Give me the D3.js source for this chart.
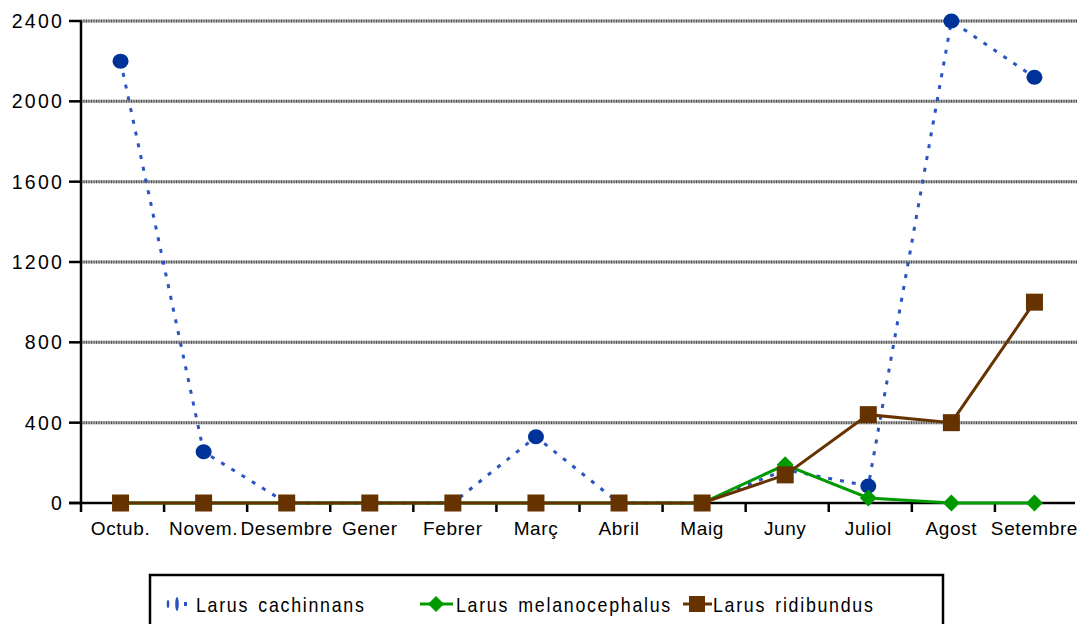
<!DOCTYPE html>
<html>
<head>
<meta charset="utf-8">
<script src="https://cdn.jsdelivr.net/npm/d3@7"></script>
<style>
  body { margin: 0; background: #fff; }
  text { font-family: "Liberation Sans", Arial, sans-serif; fill: #000; }
</style>
</head>
<body>
<div id="chart"></div>
<script>
var months = ["Octub.", "Novem.", "Desembre", "Gener", "Febrer", "Març", "Abril", "Maig", "Juny", "Juliol", "Agost", "Setembre"];
var cachinnans = [2200, 255, 0, 0, 0, 330, 0, 0, 165, 85, 2400, 2120];
var melanocephalus = [0, 0, 0, 0, 0, 0, 0, 0, 190, 25, 0, 0];
var ridibundus = [0, 0, 0, 0, 0, 0, 0, 0, 140, 440, 400, 1000];
var yTicks = [0, 400, 800, 1200, 1600, 2000, 2400];
var seriesNames = ["Larus cachinnans", "Larus melanocephalus", "Larus ridibundus"];

var width = 1087, height = 624;
var svg = d3.select("#chart").append("svg")
    .attr("width", width).attr("height", height);

var x = d3.scaleBand().domain(months).range([79, 1076]);
var y = d3.scaleLinear().domain([0, 2400]).range([503, 21]);
var axisX = 81;

// gridlines
var grid = svg.append("g");
grid.selectAll("line.g1").data(yTicks.slice(1)).enter().append("line")
    .attr("x1", axisX).attr("x2", 1077)
    .attr("y1", function(d){ return y(d); }).attr("y2", function(d){ return y(d); })
    .attr("stroke", "#aaa").attr("stroke-width", 3);
grid.selectAll("line.g2").data(yTicks.slice(1)).enter().append("line")
    .attr("x1", axisX).attr("x2", 1077)
    .attr("y1", function(d){ return y(d); }).attr("y2", function(d){ return y(d); })
    .attr("stroke", "#555").attr("stroke-width", 3).attr("stroke-dasharray", "1,1.5");

// y axis
svg.append("line").attr("x1", axisX).attr("x2", axisX).attr("y1", y(2400)).attr("y2", 512)
    .attr("stroke", "#000").attr("stroke-width", 2.5);
svg.selectAll("line.yt").data(yTicks).enter().append("line")
    .attr("x1", 69).attr("x2", axisX)
    .attr("y1", function(d){ return y(d); }).attr("y2", function(d){ return y(d); })
    .attr("stroke", "#000").attr("stroke-width", 2.5);
svg.selectAll("text.yl").data(yTicks).enter().append("text")
    .attr("x", 64).attr("y", function(d){ return y(d) + 7; })
    .attr("text-anchor", "end")
    .style("font-size", "19.5px").style("letter-spacing", "2.2px")
    .text(function(d){ return d; });

// x axis
svg.append("line").attr("x1", 69).attr("x2", 1075).attr("y1", y(0)).attr("y2", y(0))
    .attr("stroke", "#000").attr("stroke-width", 2.5);
svg.selectAll("line.xt").data(months.slice(1)).enter().append("line")
    .attr("x1", function(d){ return x(d) + 2; }).attr("x2", function(d){ return x(d) + 2; })
    .attr("y1", y(0)).attr("y2", 512)
    .attr("stroke", "#000").attr("stroke-width", 2.5);
svg.selectAll("text.xl").data(months).enter().append("text")
    .attr("x", function(d){ return x(d) + x.bandwidth() / 2; }).attr("y", 535)
    .attr("text-anchor", "middle")
    .style("font-size", "19px").style("letter-spacing", "0.6px")
    .text(function(d){ return d; });

var cx = function(d, i){ return x(months[i]) + x.bandwidth() / 2; };
var line = d3.line().x(function(d, i){ return cx(d, i); }).y(function(d){ return y(d); });

// Larus cachinnans
svg.append("path").datum(cachinnans).attr("d", line)
    .attr("fill", "none").attr("stroke", "#2a55c0").attr("stroke-width", 3)
    .attr("stroke-dasharray", "4,8");
svg.selectAll("ellipse.c").data(cachinnans).enter().append("ellipse")
    .attr("cx", cx).attr("cy", function(d){ return y(d); })
    .attr("rx", 8).attr("ry", 7.5).attr("fill", "#003399");

// Larus melanocephalus
svg.append("path").datum(melanocephalus).attr("d", line)
    .attr("fill", "none").attr("stroke", "#009900").attr("stroke-width", 3);
svg.selectAll("path.m").data(melanocephalus).enter().append("path")
    .attr("transform", function(d, i){ return "translate(" + cx(d, i) + "," + y(d) + ")"; })
    .attr("d", "M0,-8.5L8.5,0L0,8.5L-8.5,0Z").attr("fill", "#009900");

// Larus ridibundus
svg.append("path").datum(ridibundus).attr("d", line)
    .attr("fill", "none").attr("stroke", "#663300").attr("stroke-width", 3);
svg.selectAll("rect.r").data(ridibundus).enter().append("rect")
    .attr("x", function(d, i){ return cx(d, i) - 8.5; }).attr("y", function(d){ return y(d) - 8.5; })
    .attr("width", 17).attr("height", 17).attr("fill", "#663300");

// legend
svg.append("rect").attr("x", 150).attr("y", 575).attr("width", 793).attr("height", 70)
    .attr("fill", "none").attr("stroke", "#000").attr("stroke-width", 2.5);
var lg = svg.append("g");
// cachinnans symbol
lg.append("ellipse").attr("cx", 168).attr("cy", 604).attr("rx", 1.3).attr("ry", 4).attr("fill", "#2a55c0");
lg.append("ellipse").attr("cx", 177).attr("cy", 604).attr("rx", 1.8).attr("ry", 7).attr("fill", "#2a55c0");
lg.append("rect").attr("x", 184).attr("y", 602).attr("width", 3).attr("height", 4).attr("fill", "#2a55c0");
// melanocephalus symbol
lg.append("line").attr("x1", 420).attr("x2", 453).attr("y1", 604).attr("y2", 604)
    .attr("stroke", "#009900").attr("stroke-width", 3);
lg.append("path").attr("transform", "translate(436,604)")
    .attr("d", "M0,-8L8,0L0,8L-8,0Z").attr("fill", "#009900");
// ridibundus symbol
lg.append("line").attr("x1", 683).attr("x2", 712).attr("y1", 604).attr("y2", 604)
    .attr("stroke", "#663300").attr("stroke-width", 3);
lg.append("rect").attr("x", 689).attr("y", 596).attr("width", 16).attr("height", 16).attr("fill", "#663300");

var legendX = [196, 456, 713];
lg.selectAll("text").data(seriesNames).enter().append("text")
    .attr("transform", function(d, i){ return "translate(" + legendX[i] + ",612) scale(0.85,1)"; })
    .style("font-size", "21px").style("letter-spacing", "2px").style("word-spacing", "3px")
    .text(function(d){ return d; });
</script>
</body>
</html>
